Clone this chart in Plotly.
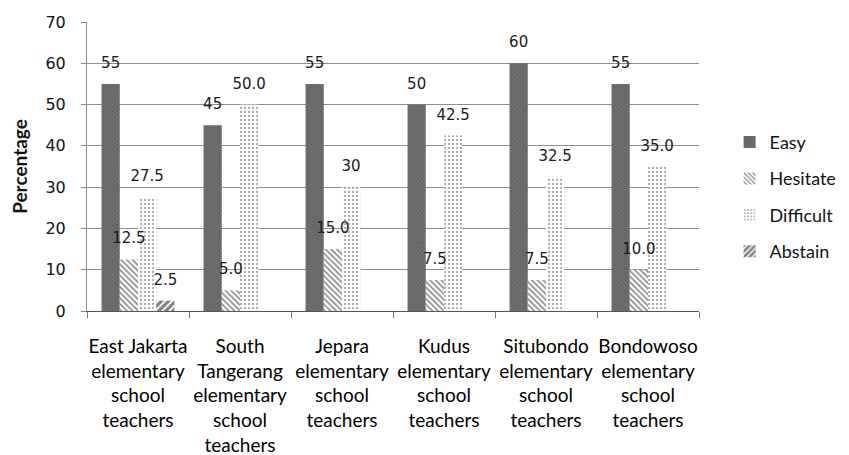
import plotly.graph_objects as go

categories = [
    "East Jakarta<br>elementary<br>school<br>teachers",
    "South<br>Tangerang<br>elementary<br>school<br>teachers",
    "Jepara<br>elementary<br>school<br>teachers",
    "Kudus<br>elementary<br>school<br>teachers",
    "Situbondo<br>elementary<br>school<br>teachers",
    "Bondowoso<br>elementary<br>school<br>teachers",
]
easy = [55, 45, 55, 50, 60, 55]
easy_labels = ["55", "45", "55", "50", "60", "55"]
hesitate = [12.5, 5.0, 15.0, 7.5, 7.5, 10.0]
hesitate_labels = ["12.5", "5.0", "15.0", "7.5", "7.5", "10.0"]
difficult = [27.5, 50.0, 30, 42.5, 32.5, 35.0]
difficult_labels = ["27.5", "50.0", "30", "42.5", "32.5", "35.0"]
abstain = [2.5, 0, 0, 0, 0, 0]
abstain_labels = ["2.5", "", "", "", "", ""]

series = [
    ("Easy", easy, easy_labels, dict(shape="x", fgcolor="#484848", bgcolor="#707070", size=3, solidity=0.4)),
    ("Hesitate", hesitate, hesitate_labels, dict(shape="\\", fgcolor="#111111", bgcolor="white", size=4, solidity=0.4)),
    ("Difficult", difficult, difficult_labels, dict(shape=".", fgcolor="#555555", bgcolor="white", size=4, solidity=0.25)),
    ("Abstain", abstain, abstain_labels, dict(shape="/", fgcolor="#000000", bgcolor="white", size=5, solidity=0.65)),
]

fig = go.Figure()
for name, vals, labels, pat in series:
    fig.add_trace(go.Bar(
        name=name, x=categories, y=vals,
        marker=dict(color=pat["bgcolor"], line=dict(width=0), pattern=pat),
        legendgroup=name, offsetgroup=name,
    ))
for name, vals, labels, pat in series:
    fig.add_trace(go.Scatter(
        x=categories, y=vals, text=labels, mode="markers+text",
        textposition="top center",
        marker=dict(size=18, color="rgba(0,0,0,0)"),
        textfont=dict(family="DejaVu Sans", size=15, color="#1a1a1a"),
        showlegend=False, hoverinfo="skip", cliponaxis=False,
        offsetgroup=name,
    ))

fig.update_layout(
    width=849, height=455,
    barmode="group", bargap=0.285, bargroupgap=0,
    scattermode="group", scattergap=0.285,
    plot_bgcolor="white", paper_bgcolor="white",
    margin=dict(l=79, r=158, t=14, b=152, autoexpand=False),
    legend=dict(
        x=1.05, y=0.395, xanchor="left", yanchor="middle",
        font=dict(family="Lato", size=18, color="#111111"),
        tracegroupgap=10, itemwidth=30,
    ),
    showlegend=True,
)
fig.update_yaxes(
    range=[0, 70], dtick=10, showgrid=True, gridcolor="#8c8c8c", gridwidth=1,
    showline=True, linecolor="#8c8c8c", ticks="outside", ticklen=5, tickcolor="#8c8c8c",
    ticklabelstandoff=12,
    tickfont=dict(family="DejaVu Sans", size=16, color="#111111"),
    title=dict(text="<b>Percentage</b>", font=dict(family="Lato", size=19, color="#111111"), standoff=24),
    zeroline=False, automargin=False,
)
fig.update_xaxes(
    showline=True, linecolor="#555555", ticks="outside", ticklen=6, tickcolor="#777777",
    tickson="boundaries", automargin=False, ticklabelstandoff=18, tickangle=0,
    tickfont=dict(family="Lato", size=19, color="#000000"),
)

fig.write_html("out.html")
